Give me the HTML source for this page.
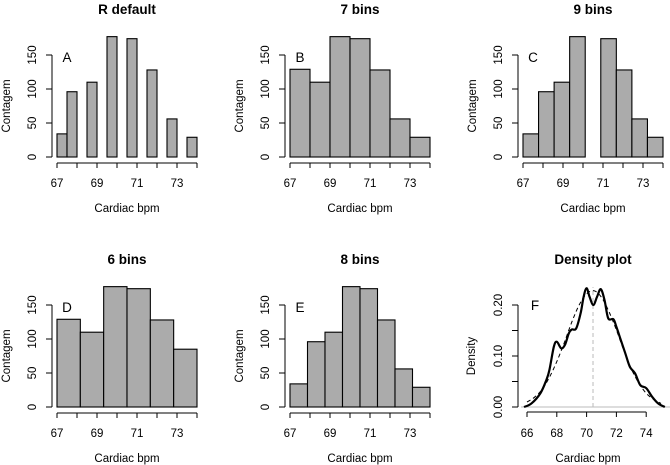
<!DOCTYPE html>
<html><head><meta charset="utf-8"><style>
html,body{margin:0;padding:0;background:#fff;}
svg{display:block;font-family:"Liberation Sans",Arial,sans-serif;}
</style></head><body>
<svg id="chart" width="670" height="465" viewBox="0 0 670 465" xmlns="http://www.w3.org/2000/svg"></svg>
<script>
const countsA = [34,96,0,110,0,177,0,174,0,128,0,56,0,29];
const countsB = [129,110,177,174,128,56,29];
const countsC = [34,96,110,177,0,174,128,56,29];
const countsD = [129,110,177,174,128,85];
const countsE = [34,96,110,177,174,128,56,29];
const histTitles = ["R default","7 bins","9 bins","6 bins","8 bins"];
const histLetters = ["A","B","C","D","E"];
const xTicks = [67,68,69,70,71,72,73,74];
const xTickLabels = ["67","","69","","71","","73",""];
const yTicks = [0,50,100,150];
const densX = [65.8,66.3,66.9,67.3,67.5,67.8,68.0,68.3,68.55,68.8,69.0,69.3,69.6,69.8,70.0,70.2,70.45,70.7,70.95,71.2,71.45,71.8,72.0,72.3,72.6,72.9,73.25,73.6,74.0,74.4,74.8,75.25];
const densY = [0.0,0.007,0.027,0.053,0.072,0.118,0.128,0.115,0.122,0.144,0.152,0.154,0.184,0.216,0.233,0.216,0.200,0.216,0.231,0.210,0.174,0.172,0.157,0.131,0.105,0.079,0.066,0.043,0.037,0.020,0.007,0.0];
const normX = [66,66.5,67,67.5,68,68.5,69,69.5,70,70.5,71,71.5,72,72.5,73,73.5,74,74.5,75];
const normY = [0.0097,0.019,0.034,0.058,0.089,0.126,0.166,0.200,0.222,0.228,0.215,0.187,0.151,0.111,0.075,0.047,0.027,0.015,0.007];
const meanLine = 70.43;
const densXTicks = [66,68,70,72,74];
const densYTicks = [0,0.05,0.10,0.15,0.20];
const densYLabels = ["0.00","","0.10","","0.20"];

const svg = document.getElementById('chart');
const NS = "http://www.w3.org/2000/svg";
function mk(tag, attrs, parent){
  const e = document.createElementNS(NS, tag);
  for (const k in attrs) e.setAttribute(k, attrs[k]);
  (parent||svg).appendChild(e);
  return e;
}
function txt(s, x, y, size, extra, parent){
  const t = mk('text', Object.assign({x:x, y:y, 'font-size':size, 'text-anchor':'middle', fill:'#000'}, extra||{}), parent);
  t.textContent = s;
  return t;
}
function smooth(pts){
  let d = 'M' + pts[0][0] + ',' + pts[0][1];
  for (let i = 0; i < pts.length-1; i++){
    const p0 = pts[Math.max(0,i-1)], p1 = pts[i], p2 = pts[i+1], p3 = pts[Math.min(pts.length-1,i+2)];
    const c1x = p1[0] + (p2[0]-p0[0])/6, c1y = p1[1] + (p2[1]-p0[1])/6;
    const c2x = p2[0] - (p3[0]-p1[0])/6, c2y = p2[1] - (p3[1]-p1[1])/6;
    d += ' C' + c1x + ',' + c1y + ' ' + c2x + ',' + c2y + ' ' + p2[0] + ',' + p2[1];
  }
  return d;
}

const allCounts = [countsA,countsB,countsC,countsD,countsE];
const pos = [[0,0],[1,0],[2,0],[0,1],[1,1]];
allCounts.forEach((counts, i) => {
  const ox = 233*pos[i][0], oy = 250*pos[i][1];
  const g = mk('g', {});
  
  
  const xs = v => ox + 57 + (v-67)*20;
  const ys = v => oy + 157 - v*(102/150);
  const w = 7/counts.length;
  counts.forEach((c, j) => {
    const x0 = xs(67 + j*w), x1 = xs(67 + (j+1)*w);
    const r = mk('rect', {x:x0, y:ys(c), width:x1-x0, height:ys(0)-ys(c), fill:'#ababab', stroke:'#000', 'stroke-width':1.1}, g);
    
    
  });
  const xa = mk('line', {x1:xs(67), x2:xs(74), y1:oy+163, y2:oy+163, stroke:'#000'}, g);
  
  
  xTicks.forEach((t, k) => {
    mk('line', {x1:xs(t), x2:xs(t), y1:oy+163, y2:oy+168, stroke:'#000'}, g);
    if (xTickLabels[k]) txt(xTickLabels[k], xs(t), oy+187, 11.5, {}, g);
  });
  const ya = mk('line', {x1:ox+52, x2:ox+52, y1:ys(0), y2:ys(150), stroke:'#000'}, g);
  
  
  yTicks.forEach(t => {
    mk('line', {x1:ox+46, x2:ox+52, y1:ys(t), y2:ys(t), stroke:'#000'}, g);
    txt(String(t), ox+36, ys(t), 11.5, {transform:'rotate(-90 '+(ox+36)+' '+ys(t)+')'}, g);
  });
  const yl = txt('Contagem', ox+10, oy+106, 11.5, {transform:'rotate(-90 '+(ox+10)+' '+(oy+106)+')'}, g);
  
  
  const xl = txt('Cardiac bpm', ox+127, oy+212, 11.5, {}, g);
  
  
  const ti = txt(histTitles[i], ox+127, oy+14, 13.5, {'font-weight':'bold'}, g);
  
  
  const le = txt(histLetters[i], ox+67, oy+62, 13.5, {}, g);
  
  
});

(function(){
  const g = mk('g', {});
  
  
  const xs = v => 527 + (v-66)*14.9;
  const ys = v => 407 - v*510;
  const base = mk('line', {x1:xs(65.6), x2:xs(75.6), y1:ys(0), y2:ys(0), stroke:'#bbb'}, g);
  
  
  const ml = mk('line', {x1:xs(meanLine), x2:xs(meanLine), y1:ys(0), y2:ys(0.235), stroke:'#bbb', 'stroke-dasharray':'4,3'}, g);
  
  
  const nd = mk('path', {d: smooth(normX.map((x,k)=>[xs(x), ys(normY[k])])), fill:'none', stroke:'#000', 'stroke-width':1, 'stroke-dasharray':'4,3'}, g);
  
  
  const dl = mk('path', {d: smooth(densX.map((x,k)=>[xs(x), ys(densY[k])])), fill:'none', stroke:'#000', 'stroke-width':2.2, 'stroke-linejoin':'round'}, g);
  
  
  const xa = mk('line', {x1:xs(66), x2:xs(74), y1:412, y2:412, stroke:'#000'}, g);
  
  
  densXTicks.forEach(t => {
    mk('line', {x1:xs(t), x2:xs(t), y1:412, y2:417, stroke:'#000'}, g);
    txt(String(t), xs(t), 437, 11.5, {}, g);
  });
  const ya = mk('line', {x1:518, x2:518, y1:ys(0), y2:ys(0.2), stroke:'#000'}, g);
  
  
  densYTicks.forEach((t,k) => {
    mk('line', {x1:512, x2:518, y1:ys(t), y2:ys(t), stroke:'#000'}, g);
    if (densYLabels[k]) txt(densYLabels[k], 502, ys(t), 11.5, {transform:'rotate(-90 502 '+ys(t)+')'}, g);
  });
  const yl = txt('Density', 475, 356, 11.5, {transform:'rotate(-90 475 356)'}, g);
  
  
  const xl = txt('Cardiac bpm', 588, 462, 11.5, {}, g);
  
  
  const ti = txt('Density plot', 593, 264, 13.5, {'font-weight':'bold'}, g);
  
  
  const le = txt('F', 535, 310, 13.5, {}, g);
  
  
})();
</script>
</body></html>
